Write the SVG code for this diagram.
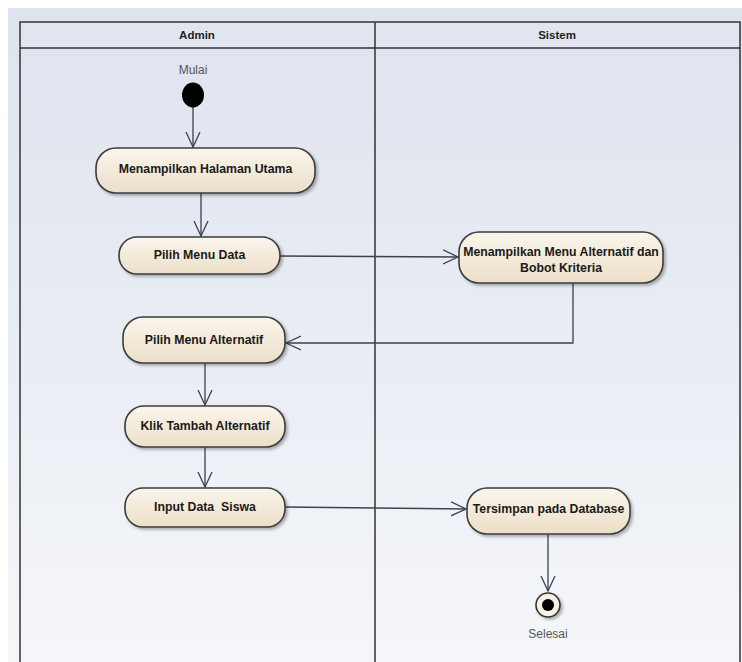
<svg xmlns="http://www.w3.org/2000/svg" width="742" height="662" viewBox="0 0 742 662">
<defs>
<linearGradient id="bg" x1="0" y1="0" x2="0" y2="1">
<stop offset="0" stop-color="#dee3ee"/>
<stop offset="1" stop-color="#f4f6f9"/>
</linearGradient>
<linearGradient id="nf" x1="0" y1="0" x2="0" y2="1">
<stop offset="0" stop-color="#faf5ec"/>
<stop offset="1" stop-color="#ecdfc8"/>
</linearGradient>
<filter id="sh" x="-10%" y="-20%" width="130%" height="150%">
<feDropShadow dx="2" dy="2" stdDeviation="1.5" flood-color="#000" flood-opacity="0.3"/>
</filter>
<marker id="ar" viewBox="0 0 16 16" refX="15" refY="8" markerWidth="16" markerHeight="16" markerUnits="userSpaceOnUse" orient="auto">
<path d="M0,1 L15,8 L0,15" fill="none" stroke="#3a4150" stroke-width="1.3"/>
</marker>
<style>
.lane{fill:none;stroke:#333;stroke-width:1.5}
.node{fill:url(#nf);stroke:#3c3c3c;stroke-width:1.6;filter:url(#sh)}
.t{font-family:"Liberation Sans",Arial,sans-serif;font-size:12.3px;font-weight:bold;fill:#1a1a1a;text-anchor:middle}
.h{font-family:"Liberation Sans",Arial,sans-serif;font-size:11.5px;font-weight:bold;fill:#222;text-anchor:middle}
.l{font-family:"Liberation Sans",Arial,sans-serif;font-size:12px;fill:#555;text-anchor:middle}
.c{fill:none;stroke:#3a4150;stroke-width:1.3;marker-end:url(#ar)}
</style>
</defs>
<rect x="0" y="0" width="742" height="662" fill="#ffffff"/>
<rect x="8" y="8" width="734" height="654" fill="url(#bg)"/>
<g id="lanes">
<rect x="20" y="22" width="720" height="26" fill="#e1e5ef"/>
<path class="lane" d="M20,662 V22 H740 V662 M20,48 H740 M375,22 V662"/>
<text class="h" x="197" y="39">Admin</text>
<text class="h" x="557" y="39">Sistem</text>
</g>
<g id="connectors">
<path class="c" d="M193,107 V147"/>
<path class="c" d="M201,193 V236"/>
<path class="c" d="M280,256 L458,257"/>
<path class="c" d="M573,283 V343 H286"/>
<path class="c" d="M205,363 V405"/>
<path class="c" d="M205,447 V487"/>
<path class="c" d="M285,507 L466,509"/>
<path class="c" d="M548,534 V591"/>
</g>
<g id="start">
<text class="l" x="193" y="74">Mulai</text>
<ellipse cx="193" cy="95" rx="11" ry="12.5" fill="#000"/>
</g>
<g id="n1">
<rect class="node" x="96" y="148" width="219" height="45" rx="20"/>
<text class="t" x="205.5" y="173">Menampilkan Halaman Utama</text>
</g>
<g id="n2">
<rect class="node" x="119" y="237" width="161" height="37" rx="18"/>
<text class="t" x="199.5" y="259">Pilih Menu Data</text>
</g>
<g id="n3">
<rect class="node" x="459" y="232" width="204" height="51" rx="20"/>
<text class="t" x="561" y="256">Menampilkan Menu Alternatif dan</text>
<text class="t" x="561" y="272">Bobot Kriteria</text>
</g>
<g id="n4">
<rect class="node" x="123" y="317" width="162" height="46" rx="20"/>
<text class="t" x="204" y="344">Pilih Menu Alternatif</text>
</g>
<g id="n5">
<rect class="node" x="125" y="406" width="160" height="41" rx="19"/>
<text class="t" x="205" y="430">Klik Tambah Alternatif</text>
</g>
<g id="n6">
<rect class="node" x="125" y="488" width="160" height="39" rx="18"/>
<text class="t" x="205" y="511" xml:space="preserve">Input Data  Siswa</text>
</g>
<g id="n7">
<rect class="node" x="467" y="488" width="163" height="46" rx="20"/>
<text class="t" x="548.5" y="513">Tersimpan pada Database</text>
</g>
<g id="end">
<circle cx="548" cy="605" r="12" fill="#f7f1e6" stroke="#333" stroke-width="1.6" filter="url(#sh)"/>
<circle cx="548" cy="605" r="6" fill="#000"/>
<text class="l" x="548" y="638">Selesai</text>
</g>
</svg>
